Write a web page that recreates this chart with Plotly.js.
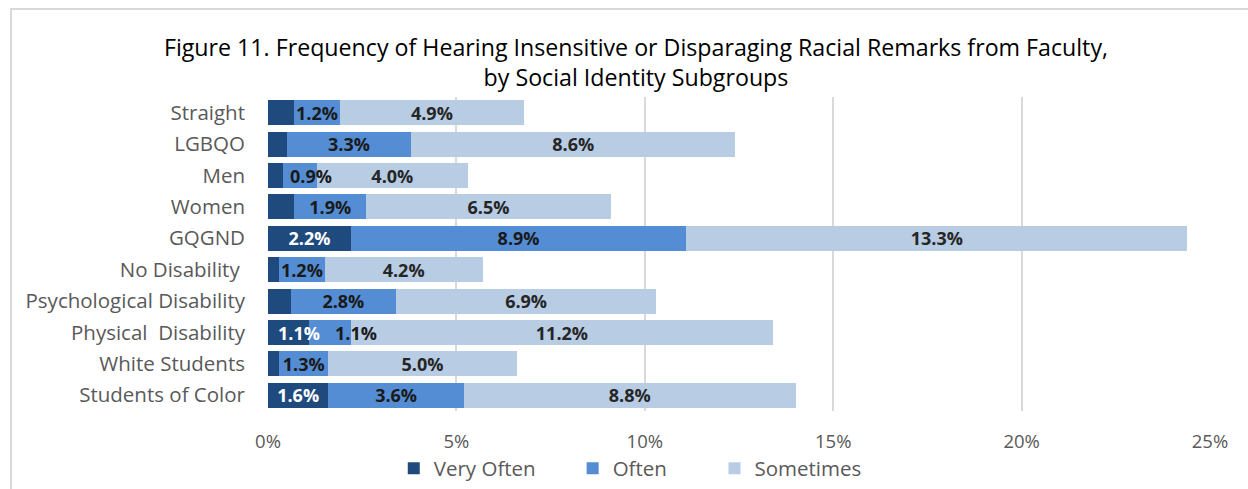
<!DOCTYPE html>
<html>
<head>
<meta charset="utf-8">
<script src="https://cdn.plot.ly/plotly-3.0.1.min.js"></script>
<style>
html,body{margin:0;padding:0;background:#fff;}
#wrap{position:relative;width:1248px;height:489px;}
#chart{width:1248px;height:489px;}
#frame{position:absolute;left:10px;top:8px;right:-5px;bottom:-5px;border-left:2px solid #d9d9d9;border-top:2px solid #d9d9d9;pointer-events:none;}
</style>
</head>
<body>
<div id="wrap"><div id="chart"></div><div id="frame"></div></div>
<script>
const categories = ["Straight","LGBQO","Men","Women","GQGND","No Disability ","Psychological Disability","Physical\u00a0 Disability","White Students","Students of Color"];
const seriesNames = ["Very Often","Often","Sometimes"];
const veryOften = [0.7,0.5,0.4,0.7,2.2,0.3,0.6,1.1,0.3,1.6];
const often = [1.2,3.3,0.9,1.9,8.9,1.2,2.8,1.1,1.3,3.6];
const sometimes = [4.9,8.6,4.0,6.5,13.3,4.2,6.9,11.2,5.0,8.8];
const veryOftenShown = [false,false,false,false,true,false,false,true,false,true];
const xTicks = [0,5,10,15,20,25];
const xTickLabels = ["0%","5%","10%","15%","20%","25%"];

const fontFam = "'Open Sans', 'Noto Sans', sans-serif";
const lbl = (v) => v.toFixed(1) + "%";
const labelSize = 18;

// labels nudged sideways (as the reference does) to avoid crowding: [trace, row, pixel shift]
const nudged = [[0, 7, 10], [1, 7, 26], [1, 2, 11]];

const colors = ["#1f4a7e", "#548dd4", "#b8cce4"];
const textColors = ["#ffffff", "#1a1a1a", "#262626"];
const vals = [veryOften, often, sometimes];

const texts = [
  veryOften.map((v,i)=> veryOftenShown[i] ? lbl(v) : ""),
  often.map(lbl),
  sometimes.map(lbl)
];
const annotations = [];
nudged.forEach(([t, r, dx]) => {
  let start = 0;
  for (let k = 0; k < t; k++) start += vals[k][r];
  annotations.push({
    x: start + vals[t][r] / 2, y: categories[r], xref: "x", yref: "y",
    text: texts[t][r], showarrow: false, xshift: dx,
    font: {family: fontFam, size: labelSize, color: textColors[t], weight: "bold"}
  });
  texts[t][r] = "";
});

const legendPad = [6, 8, 0];
const traces = seriesNames.map((name, t) => ({
  type: "bar", orientation: "h", name: name + "\u00a0".repeat(legendPad[t]),
  y: categories, x: vals[t],
  marker: {color: colors[t]},
  text: texts[t],
  textposition: "inside",
  insidetextanchor: "middle",
  constraintext: "none",
  textangle: 0,
  insidetextfont: {family: fontFam, size: labelSize, color: textColors[t], weight: "bold"},
  hoverinfo: "none"
}));

const layout = {
  width: 1248, height: 489,
  paper_bgcolor: "#fff", plot_bgcolor: "#fff",
  barmode: "stack", bargap: 0.2,
  margin: {l: 268, r: 38, t: 97, b: 78},
  showlegend: true,
  title: {
    text: "Figure 11. Frequency of Hearing Insensitive or Disparaging Racial Remarks from Faculty,<br>by Social Identity Subgroups",
    font: {family: fontFam, size: 23.2, color: "#000"},
    x: 0.5096, xanchor: "center", xref: "container",
    y: 0.886, yanchor: "top", yref: "container"
  },
  xaxis: {
    range: [0, 25], tickvals: xTicks, ticktext: xTickLabels,
    showgrid: true, gridcolor: "#d9d9d9", gridwidth: 2,
    zeroline: false, showline: false, ticks: "",
    tickfont: {family: fontFam, size: 18.5, color: "#595959"},
    ticklabelstandoff: 17, fixedrange: true
  },
  yaxis: {
    autorange: "reversed", type: "category",
    showgrid: false, zeroline: false, showline: false, ticks: "",
    tickfont: {family: fontFam, size: 20.5, color: "#595959"},
    ticklabelstandoff: 22, fixedrange: true
  },
  legend: {
    orientation: "h", x: 0.1335, xanchor: "left", xref: "paper",
    y: 0.042, yanchor: "middle", yref: "container",
    font: {family: fontFam, size: 20.5, color: "#595959"},
    traceorder: "normal", itemwidth: 30
  },
  annotations: annotations
};

Plotly.newPlot("chart", traces, layout, {displayModeBar: false, staticPlot: true});
</script>
</body>
</html>
